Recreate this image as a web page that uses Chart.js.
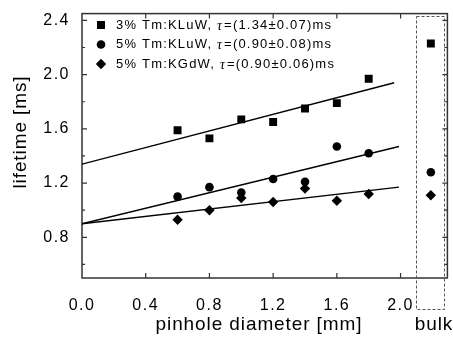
<!DOCTYPE html>
<html lang="en">
<head>
<meta charset="UTF-8">
<title>Tm lifetime vs pinhole diameter</title>
<style>
  html, body { margin: 0; padding: 0; background: #fff; }
  #chart { display: block; }
</style>
</head>
<body>
<canvas id="chart" width="453" height="343"></canvas>
<script src="https://cdn.jsdelivr.net/npm/chart.js@4/dist/chart.umd.min.js"></script>
<script>
// pinhole diameters [mm]
const diameters = [0.6, 0.8, 1.0, 1.2, 1.4, 1.6, 1.8];
const bulkX = 2.19;

// measured lifetimes [ms]
const kluw3 = [1.59, 1.53, 1.67, 1.65, 1.75, 1.79, 1.97];
const kluw5 = [1.10, 1.17, 1.13, 1.23, 1.21, 1.47, 1.42];
const kgdw5 = [0.93, 1.00, 1.09, 1.06, 1.16, 1.07, 1.12];
const bulkValues = [2.23, 1.28, 1.11];

// linear fits: start at x=0, end point
const fitStartY = [1.34, 0.90, 0.90];
const fitEndX = [1.96, 1.99, 1.99];
const fitEndY = [1.94, 1.47, 1.17];

const seriesNames = ['3% Tm:KLuW, ', '5% Tm:KLuW, ', '5% Tm:KGdW, '];
const tauLabels = ['=(1.34\u00b10.07)ms', '=(0.90\u00b10.08)ms', '=(0.90\u00b10.06)ms'];

const xTicks = [0.0, 0.4, 0.8, 1.2, 1.6, 2.0];
const yTicks = [0.8, 1.2, 1.6, 2.0, 2.4];
const yMinor = [0.6, 1.0, 1.4, 1.8, 2.2];

const markers = ['rect', 'circle', 'rectRot'];
const markerRadius = [5.6, 4.3, 5.2];
const allSeries = [kluw3, kluw5, kgdw5];

const SANS = '"Liberation Sans", Arial, Helvetica, sans-serif';

function drawMarker(ctx, style, x, y) {
    ctx.beginPath();
    if (style === 'rect') {
        ctx.rect(x - 4, y - 4, 8, 8);
    } else if (style === 'circle') {
        ctx.arc(x, y, 4.3, 0, Math.PI * 2);
    } else {
        ctx.moveTo(x, y - 5.2);
        ctx.lineTo(x + 5.2, y);
        ctx.lineTo(x, y + 5.2);
        ctx.lineTo(x - 5.2, y);
        ctx.closePath();
    }
    ctx.fill();
}

const framePlugin = {
    id: 'frame',
    beforeDraw(chart) {
        chart.ctx.letterSpacing = '1.5px';
    },
    beforeDatasetsDraw(chart) {
        const ctx = chart.ctx;
        const a = chart.chartArea;
        const xs = chart.scales.x, ys = chart.scales.y;
        ctx.save();
        ctx.strokeStyle = '#333';
        ctx.lineWidth = 1.5;
        ctx.strokeRect(a.left, a.top, a.right - a.left, a.bottom - a.top);

        ctx.lineWidth = 1.2;
        ctx.beginPath();
        xTicks.forEach(v => {
            if (v === 0) return;
            const px = xs.getPixelForValue(v);
            ctx.moveTo(px, a.bottom); ctx.lineTo(px, a.bottom - 5);
            ctx.moveTo(px, a.top); ctx.lineTo(px, a.top + 5);
        });
        yTicks.forEach(v => {
            const py = ys.getPixelForValue(v);
            ctx.moveTo(a.left, py); ctx.lineTo(a.left + 5, py);
            ctx.moveTo(a.right, py); ctx.lineTo(a.right - 5, py);
        });
        yMinor.forEach(v => {
            const py = ys.getPixelForValue(v);
            ctx.moveTo(a.left, py); ctx.lineTo(a.left + 3, py);
            ctx.moveTo(a.right, py); ctx.lineTo(a.right - 3, py);
        });
        ctx.stroke();

        // dashed frame around the bulk values
        const bx0 = xs.getPixelForValue(2.10);
        const bx1 = xs.getPixelForValue(2.275);
        const by0 = ys.getPixelForValue(2.43);
        const by1 = a.bottom + 31;
        ctx.strokeStyle = '#555';
        ctx.lineWidth = 1;
        ctx.setLineDash([3, 2]);
        ctx.strokeRect(Math.round(bx0) + 0.5, Math.round(by0) + 0.5, Math.round(bx1 - bx0), Math.round(by1 - by0));
        ctx.restore();
    },
    afterDraw(chart) {
        const ctx = chart.ctx;
        ctx.save();
        ctx.fillStyle = '#000';

        // legend
        const rowY = [25, 44.5, 64];
        for (let i = 0; i < 3; i++) {
            drawMarker(ctx, markers[i], 101, rowY[i]);
            ctx.textBaseline = 'middle';
            ctx.textAlign = 'left';
            ctx.font = '13px ' + SANS;
            ctx.letterSpacing = '1.2px';
            ctx.fillText(seriesNames[i], 116, rowY[i]);
            let x = 116 + ctx.measureText(seriesNames[i]).width;
            ctx.font = 'italic 14px "Liberation Serif", "Times New Roman", serif';
            ctx.letterSpacing = '0px';
            ctx.fillText('\u03c4', x, rowY[i] + 1);
            x += ctx.measureText('\u03c4').width + 2;
            ctx.font = '13px ' + SANS;
            ctx.letterSpacing = '1.2px';
            ctx.fillText(tauLabels[i], x, rowY[i]);
        }

        // axis titles
        ctx.font = '19px ' + SANS;
        ctx.letterSpacing = '0.9px';
        ctx.textAlign = 'center';
        ctx.textBaseline = 'alphabetic';
        ctx.fillText('pinhole diameter [mm]', 259, 330);
        ctx.fillText('bulk', 434, 330);

        ctx.translate(21, 132);
        ctx.rotate(-Math.PI / 2);
        ctx.textBaseline = 'middle';
        ctx.fillText('lifetime [ms]', 0, 0);
        ctx.restore();
    }
};

const datasets = [];
allSeries.forEach((values, i) => {
    const pts = diameters.map((d, j) => ({ x: d, y: values[j] }));
    pts.push({ x: bulkX, y: bulkValues[i] });
    datasets.push({
        type: 'scatter',
        data: pts,
        pointStyle: markers[i],
        pointRadius: markerRadius[i],
        pointBackgroundColor: '#000',
        pointBorderWidth: 0,
        pointBorderColor: '#000'
    });
    datasets.push({
        type: 'line',
        data: [{ x: 0, y: fitStartY[i] }, { x: fitEndX[i], y: fitEndY[i] }],
        borderColor: '#000',
        borderWidth: 1.4,
        pointRadius: 0,
        fill: false
    });
});

new Chart(document.getElementById('chart'), {
    type: 'scatter',
    data: { datasets: datasets },
    options: {
        responsive: false,
        devicePixelRatio: 1,
        animation: false,
        layout: { padding: { top: 6, right: 4, left: 0, bottom: 0 } },
        plugins: { legend: { display: false }, tooltip: { enabled: false } },
        scales: {
            x: {
                type: 'linear',
                min: 0,
                max: 2.294,
                grid: { display: false },
                border: { display: false },
                afterBuildTicks: s => { s.ticks = xTicks.map(v => ({ value: v })); },
                afterFit: s => { s.height = 65; },
                ticks: {
                    autoSkip: false,
                    maxRotation: 0,
                    padding: 10,
                    color: '#000',
                    font: { family: SANS, size: 16 },
                    callback: v => v.toFixed(1)
                }
            },
            y: {
                type: 'linear',
                min: 0.5,
                max: 2.45,
                grid: { display: false },
                border: { display: false },
                afterBuildTicks: s => { s.ticks = yTicks.map(v => ({ value: v })); },
                afterFit: s => { s.width = 82; },
                ticks: {
                    autoSkip: false,
                    padding: 4,
                    color: '#000',
                    font: { family: SANS, size: 16 },
                    callback: v => v.toFixed(1)
                }
            }
        }
    },
    plugins: [framePlugin]
});
</script>
</body>
</html>
